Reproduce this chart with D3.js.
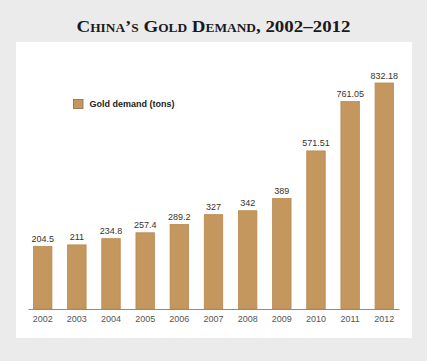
<!DOCTYPE html>
<html>
<head>
<meta charset="utf-8">
<script src="https://cdn.jsdelivr.net/npm/d3@7"></script>
<style>
  body { margin: 0; background: #ebebeb; }
  svg { display: block; }
</style>
</head>
<body>
<div id="chart"></div>
<script>
var years = ["2002", "2003", "2004", "2005", "2006", "2007", "2008", "2009", "2010", "2011", "2012"];
var demand = [204.5, 211, 234.8, 257.4, 289.2, 327, 342, 389, 571.51, 761.05, 832.18];
var labels = ["204.5", "211", "234.8", "257.4", "289.2", "327", "342", "389", "571.51", "761.05", "832.18"];
var seriesName = "Gold demand (tons)";

var svgWidth = 427;
var svgHeight = 361;
var barColor = "#c4975f";
var barStroke = "#b9884f";

var svg = d3.select("#chart")
  .append("svg")
  .attr("width", svgWidth)
  .attr("height", svgHeight);

// grey backdrop and white panel
svg.append("rect")
  .attr("width", svgWidth)
  .attr("height", svgHeight)
  .attr("fill", "#ebebeb");

svg.append("rect")
  .attr("x", 16)
  .attr("y", 42)
  .attr("width", 396)
  .attr("height", 296)
  .attr("fill", "#ffffff");

// title
svg.append("text")
  .attr("x", 213.5)
  .attr("y", 32)
  .attr("text-anchor", "middle")
  .style("font-family", "'Liberation Serif', 'DejaVu Serif', serif")
  .style("font-weight", "bold")
  .style("font-size", "17px")
  .style("font-variant", "small-caps")
  .style("fill", "#1a1a1a")
  .attr("textLength", 274)
  .attr("lengthAdjust", "spacingAndGlyphs")
  .text("China\u2019s Gold Demand, 2002\u20132012");

var data = years.map(function(y, i) {
  return {year: y, value: demand[i], label: labels[i]};
});

// scales
var xScale = d3.scaleBand()
  .domain(years)
  .range([28, 399])
  .paddingInner(0.46)
  .paddingOuter(0.16);

var yScale = d3.scaleLinear()
  .domain([-35, 832.18])
  .range([309, 83]);

var chartGroup = svg.append("g");

// bars
chartGroup.selectAll("rect.bar")
  .data(data)
  .enter()
  .append("rect")
  .attr("class", "bar")
  .attr("x", function(d) { return xScale(d.year); })
  .attr("y", function(d) { return yScale(d.value); })
  .attr("width", xScale.bandwidth())
  .attr("height", function(d) { return yScale(-35) - yScale(d.value); })
  .attr("fill", barColor)
  .attr("stroke", barStroke)
  .attr("stroke-width", 0.8);

// value labels
chartGroup.selectAll("text.value")
  .data(data)
  .enter()
  .append("text")
  .attr("class", "value")
  .attr("x", function(d) { return xScale(d.year) + xScale.bandwidth() / 2; })
  .attr("y", function(d) { return yScale(d.value) - 4.5; })
  .attr("text-anchor", "middle")
  .style("font-family", "'Liberation Sans', Arial, sans-serif")
  .style("font-size", "9px")
  .style("fill", "#333333")
  .text(function(d) { return d.label; });

// x axis
var bottomAxis = d3.axisBottom(xScale)
  .tickSize(0)
  .tickPadding(6.5);

var xAxisGroup = chartGroup.append("g")
  .attr("transform", "translate(0,309)")
  .call(bottomAxis);

xAxisGroup.select(".domain")
  .attr("stroke", "#8c8c8c")
  .attr("stroke-width", 1.2);

xAxisGroup.selectAll("text")
  .style("font-family", "'Liberation Sans', Arial, sans-serif")
  .style("font-size", "9px")
  .style("fill", "#555555");

// legend
var legend = svg.append("g");

legend.append("rect")
  .attr("x", 73.5)
  .attr("y", 99.5)
  .attr("width", 9.5)
  .attr("height", 9)
  .attr("fill", barColor)
  .attr("stroke", "#8a6a44")
  .attr("stroke-width", 0.8);

legend.append("text")
  .attr("x", 89.5)
  .attr("y", 107)
  .style("font-family", "'Liberation Sans', Arial, sans-serif")
  .style("font-weight", "bold")
  .style("font-size", "9px")
  .style("fill", "#222222")
  .text(seriesName);
</script>
</body>
</html>
